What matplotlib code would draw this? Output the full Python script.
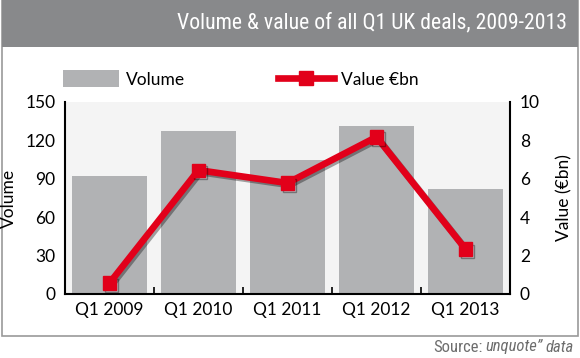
import matplotlib
matplotlib.use("Agg")
import matplotlib.pyplot as plt
import matplotlib.patheffects as pe
from matplotlib.patches import Rectangle
from matplotlib.lines import Line2D
import numpy as np

categories = ["Q1 2009", "Q1 2010", "Q1 2011", "Q1 2012", "Q1 2013"]
volume = [92, 127, 105, 131, 82]
value_bn = [0.57, 6.45, 5.78, 8.18, 2.34]
vol_ticks = [0, 30, 60, 90, 120, 150]
val_ticks = [0, 2, 4, 6, 8, 10]

plt.rcParams['font.family'] = ['Lato', 'DejaVu Sans']
COND = ['Roboto Condensed', 'DejaVu Sans']

fig = plt.figure(figsize=(5.8, 3.58), dpi=100)
W, H = 580, 358

def fx(px):
    return px / W

def fy(py):
    return 1 - py / H

# outer frame and title band
fig.patches.append(Rectangle((fx(2), fy(336)), fx(576), 336 / H, transform=fig.transFigure,
                             facecolor='white', edgecolor='#9a9a9a', linewidth=1.2, zorder=-2))
fig.patches.append(Rectangle((fx(2), fy(47)), fx(576), 47 / H, transform=fig.transFigure,
                             facecolor='#88898b', edgecolor='none', zorder=-1))
fig.text(fx(567), fy(23), "Volume & value of all Q1 UK deals, 2009-2013", ha='right', va='center',
         color='white', fontsize=15.7, family=COND)

ax = fig.add_axes([fx(65), fy(294), fx(510 - 65), (294 - 102) / H])
ax.set_facecolor('#f4f4f4')
x = np.arange(len(categories))
ax.bar(x, volume, width=0.845, color='#b1b2b4', zorder=2, label='Volume')
ax.set_xlim(-0.5, len(categories) - 0.5)
ax.set_ylim(0, 150)
ax.set_yticks(vol_ticks)
ax.set_xticks(x)
ax.set_xticklabels(categories)
ax.set_xticks(np.arange(0.5, len(categories) - 1, 1.0), minor=True)
ax.tick_params(axis='x', which='major', length=0, pad=6, labelsize=12.5)
ax.tick_params(axis='x', which='minor', length=5, direction='in', width=1.2)
ax.tick_params(axis='y', length=0, pad=7, labelsize=12.5)
for s in ['top', 'right']:
    ax.spines[s].set_visible(False)
for s in ['left', 'bottom']:
    ax.spines[s].set_linewidth(1.5)
ax.set_ylabel("Volume", fontsize=12.5, labelpad=6)

ax2 = ax.twinx()
ax2.set_ylim(0, 10)
ax2.set_yticks(val_ticks)
ax2.tick_params(axis='y', length=0, pad=7, labelsize=12.5)
for s in ['top', 'left', 'bottom']:
    ax2.spines[s].set_visible(False)
ax2.spines['right'].set_linewidth(1.5)
ax2.plot(x, value_bn, color='#e2001a', linewidth=4.8, marker='s', markersize=9.5,
         zorder=5, label='Value €bn', solid_joinstyle='miter',
         path_effects=[pe.SimpleLineShadow(offset=(1.5, -1.5), shadow_color='black', alpha=0.35),
                       pe.Normal()])
ax2.set_ylabel("Value (€bn)", fontsize=12.5, labelpad=12)

# legend
h1 = Rectangle((0, 0), 1, 1, facecolor='#b1b2b4', edgecolor='none')
h2 = Line2D([], [], color='#e2001a', linewidth=4.8, marker='s', markersize=9.5)
fig.legend([h1, h2], ["Volume", "Value €bn"], loc='center left', bbox_to_anchor=(fx(63), fy(79)),
           ncol=2, frameon=False, fontsize=12.5, handlelength=3.2, handleheight=1.15,
           handletextpad=0.4, columnspacing=5.4, borderaxespad=0, borderpad=0)

# source
SRC_FS = 12
t1 = fig.text(fx(574), fy(347), "data", ha='right', va='center', color='#6d6d6d', fontsize=SRC_FS,
              style='italic', family=COND)
fig.canvas.draw()
r = fig.canvas.get_renderer()
bb = t1.get_window_extent(r)
t2 = fig.text(bb.x0 / W - fx(3), fy(347), "unquote\u201d", ha='right', va='center', color='#6d6d6d',
              fontsize=SRC_FS, style='italic', family=COND)
bb2 = t2.get_window_extent(r)
fig.text(bb2.x0 / W - fx(3), fy(347), "Source:", ha='right', va='center', color='#6d6d6d',
         fontsize=SRC_FS, family=COND)

fig.savefig("out.png", dpi=100)
